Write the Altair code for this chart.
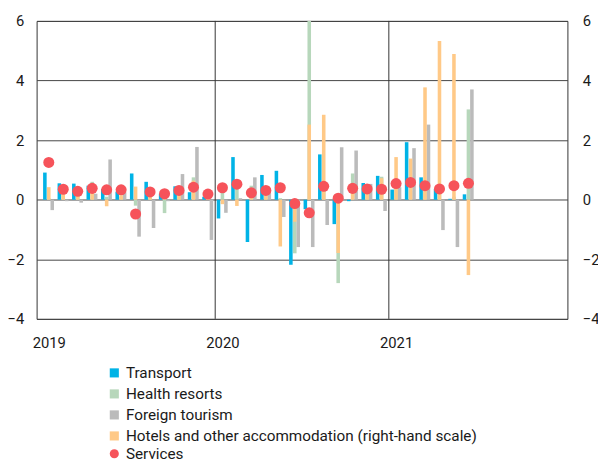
import altair as alt
import pandas as pd

# ---------------- data (monthly, Jan 2019 .. Jun 2021) ----------------
years = ["2019", "2020", "2021"]
month_index = list(range(30))

transport = [0.91, 0.55, 0.54, 0.47, 0.36, 0.27, 0.88, 0.60, 0.20, 0.45, 0.25, 0.10,
             -0.63, 1.43, -1.42, 0.83, 0.97, -2.18, -0.32, 1.52, -0.82, -0.05, 0.56, 0.80,
             0.34, 1.93, 0.75, 0.36, 0.03, 0.18]
health = [0.05, 0.30, 0.20, 0.60, 0.10, 0.10, -0.20, 0.10, -0.45, 0.20, 0.75, 0.05,
          0.25, 0.36, 0.47, 0.25, 0.05, -1.80, 6.00, 0.30, -2.80, 0.88, 0.50, 0.77,
          0.40, 0.30, 0.30, 0.30, 0.10, 3.03]
foreign = [-0.35, -0.05, -0.10, 0.20, 1.35, 0.25, -1.24, -0.95, -0.05, 0.86, 1.77, -1.35,
           -0.44, 0.05, 0.75, 0.22, -0.58, -1.59, -1.59, -0.85, 1.76, 1.65, 0.53, -0.38,
           0.42, 1.73, 2.52, -1.02, -1.59, 3.70]
hotels = [0.42, 0.25, 0.25, 0.40, -0.22, 0.15, 0.44, 0.15, 0.05, 0.20, 0.64, 0.05,
          -0.15, -0.21, 0.20, 0.30, -1.57, -0.74, 2.52, 2.85, -1.79, 0.25, 0.30, 0.72,
          1.43, 1.38, 3.77, 5.33, 4.89, -2.53]
services = [1.25, 0.35, 0.28, 0.38, 0.33, 0.33, -0.48, 0.26, 0.20, 0.31, 0.42, 0.19,
            0.40, 0.52, 0.23, 0.31, 0.40, -0.13, -0.44, 0.45, 0.05, 0.38, 0.36, 0.35,
            0.54, 0.58, 0.47, 0.36, 0.47, 0.55]

series_names = ["Transport", "Health resorts", "Foreign tourism",
                "Hotels and other accommodation (right-hand scale)", "Services"]
colors = ["#00B3E6", "#B7D7BB", "#BBBBBB", "#FFC987", "#F6535A"]
y_ticks = [-4, -2, 0, 2, 4, 6]

# ---------------- tables ----------------
rows = []
for name, vals in zip(series_names[:3], [transport, health, foreign]):
    for m, v in zip(month_index, vals):
        rows.append({"month": m, "series": name, "value": v})
primary_df = pd.DataFrame(rows)
hotels_df = pd.DataFrame({"month": month_index, "series": series_names[3], "value": hotels})
services_df = pd.DataFrame({"month": month_index, "series": series_names[4], "value": services})
year_bounds = pd.DataFrame({"b": [12 * i for i in range(1, len(years))]})

FONT = "Roboto"
TXT = "#1a1a1a"

label_expr = " : ".join(
    f"datum.value < {12 * (i + 1)} ? '{y}'" for i, y in enumerate(years[:-1])
) + f" : '{years[-1]}'"

x_axis = alt.Axis(values=[12 * i + 0.5 for i in range(len(years))], labelExpr=label_expr,
                  grid=False, title=None, labelPadding=17, labelAngle=0)
x_scale = alt.Scale(domain=[0, 36], nice=False, zero=False)
y_scale = alt.Scale(domain=[-4, 6], nice=False, zero=False)

offset_expr = ("datum.series === 'Transport' ? -0.27 : "
               "datum.series === 'Foreign tourism' ? 0.24 : 0")

color_scale = alt.Scale(domain=series_names[:4], range=colors[:4])
bar_legend = alt.Legend(orient="none", legendX=71, legendY=349, title=None,
                        symbolType="square", symbolSize=85, symbolStrokeWidth=0,
                        labelFontSize=15.5, labelFont=FONT, labelColor=TXT,
                        rowPadding=4.3, padding=0, labelLimit=0, labelOffset=4)

grid_rules = alt.Chart(year_bounds).mark_rule(color="#333333", strokeWidth=1).encode(
    x=alt.X("b:Q", scale=x_scale, axis=x_axis)
)

primary = alt.Chart(primary_df).transform_calculate(
    pos=f"datum.month + 0.5 + ({offset_expr})"
).mark_bar(size=3.6).encode(
    x=alt.X("pos:Q", scale=x_scale, axis=x_axis),
    y=alt.Y("value:Q", scale=y_scale,
            axis=alt.Axis(values=y_ticks, grid=True, gridColor="#444444", title=None,
                          labelPadding=13, orient="left")),
    y2=alt.datum(0),
    color=alt.Color("series:N", scale=color_scale, legend=bar_legend),
)

hotels_layer = alt.Chart(hotels_df).transform_calculate(
    pos="datum.month + 0.5"
).mark_bar(size=3.6).encode(
    x=alt.X("pos:Q", scale=x_scale, axis=x_axis),
    y=alt.Y("value:Q", scale=y_scale,
            axis=alt.Axis(values=y_ticks, grid=False, title=None,
                          labelPadding=15, orient="right")),
    y2=alt.datum(0),
    color=alt.Color("series:N", scale=color_scale, legend=bar_legend),
)

services_layer = alt.Chart(services_df).transform_calculate(
    pos="datum.month + 0.5"
).mark_point(filled=True, shape="circle", size=125, opacity=1, strokeWidth=0).encode(
    x=alt.X("pos:Q", scale=x_scale, axis=x_axis),
    y=alt.Y("value:Q", scale=y_scale, axis=None),
    fill=alt.Fill("series:N", scale=alt.Scale(domain=[series_names[4]], range=[colors[4]]),
                  legend=alt.Legend(orient="none", legendX=71, legendY=431, title=None,
                                    symbolType="circle", symbolSize=85, symbolStrokeWidth=0,
                                    labelFontSize=15.5, labelFont=FONT, labelColor=TXT,
                                    padding=0, labelLimit=0, labelOffset=4)),
)

chart = alt.layer(grid_rules, primary, hotels_layer, services_layer).resolve_scale(
    y="independent"
).properties(
    width=538, height=302, autosize="none",
    padding={"left": 29, "top": 10, "right": 31, "bottom": 144},
).configure_view(
    stroke="#333333", strokeWidth=1
).configure_axis(
    labelFont=FONT, labelFontSize=15, labelColor=TXT, domain=False, ticks=False
)

chart.save("out.html", embed_options={"renderer": "svg", "actions": False})
